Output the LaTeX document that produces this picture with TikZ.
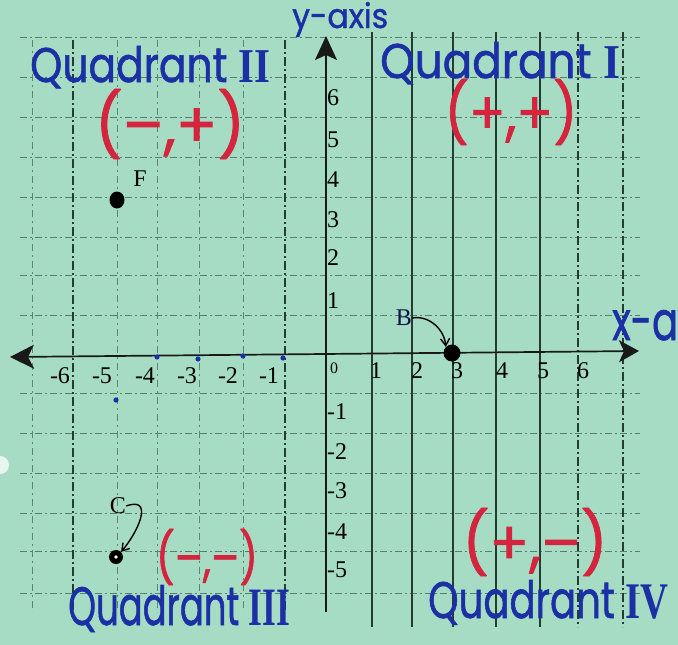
\documentclass[tikz,border=0pt]{standalone}
\usepackage{fontspec}
\setmainfont{Liberation Serif}
\newfontfamily\handfont{Poppins}[FakeBold=1.3]
\usetikzlibrary{arrows.meta,shapes.geometric}
\definecolor{paper}{RGB}{166,220,196}
\definecolor{gridc}{RGB}{35,62,48}
\definecolor{penblue}{RGB}{28,48,165}
\definecolor{penred}{RGB}{212,36,62}
\newcommand{\hw}[3]{\resizebox{#1}{#2}{#3}}
\newcommand{\hwt}[3]{\resizebox*{#1}{#2}{#3}}
\newcommand{\rn}[1]{{\rmfamily\bfseries #1}}
\tikzset{
  vline/.style={gridc, line width=1.3pt},
  vdash/.style={gridc, line width=1.2pt, dash pattern=on 9pt off 3pt on 2pt off 3pt},
  vfaint/.style={gridc!55!paper, line width=1pt, dash pattern=on 7pt off 4pt on 2pt off 4pt},
  hgrid/.style={gridc!60!paper, line width=1pt, dash pattern=on 7pt off 3pt on 2pt off 3pt},
  axisline/.style={black!90, line width=1.7pt},
  num/.style={font=\fontsize{24}{24}\selectfont, inner sep=0pt},
  quad/.style={penblue, font=\handfont, inner sep=0pt, anchor=base west},
  sign/.style={penred, font=\handfont, inner sep=0pt},
  dotpt/.style={ellipse, fill=black, minimum width=15pt, minimum height=17pt, inner sep=0pt},
  pen/.style={black, line width=1.4pt, -{Straight Barb[length=7pt,width=9pt]}},
  bluemark/.style={penblue, fill=penblue}
}
\begin{document}
\begin{tikzpicture}[x=1pt,y=-1pt]
\useasboundingbox (0,0) rectangle (678,645);
\fill[paper] (0,0) rectangle (678,645);
\fill[white!75!paper] (0,465) circle (9);
% horizontal grid
\foreach \y in {37,77,117,157,197,237,275,315,393,433,473,513,551,593}
  \draw[hgrid] (20,\y) -- (640,\y);
% vertical grid, left half
\foreach \x in {32,117,157,199,243}
  \draw[vfaint] (\x,40) -- (\x,612);
\draw[vdash] (73,40) -- (73,612);
\draw[vdash] (285,40) -- (285,612);
% vertical grid, right half
\foreach \x in {372,412,453,496,540}
  \draw[vline] (\x,32) -- (\x,627);
\foreach \x in {578,623}
  \draw[vdash] (\x,32) -- (\x,627);
% axes
\coordinate (xl) at (10,357);
\coordinate (xr) at (639,351);
\coordinate (yb) at (326,612);
\coordinate (yt) at (326,36);
\draw[axisline,{Stealth[length=24pt,width=24pt,inset=6pt]}-{Stealth[length=20pt,width=22pt,inset=5pt]}] (xl) -- (xr);
\draw[axisline,-{Stealth[length=24pt,width=22pt,inset=5pt]}] (yb) -- (yt);
% blue pen marks
\foreach \p in {(157,357),(198,359),(243,356),(283,358),(116,400)}
  \fill[bluemark] \p circle (2.6);
% x numbers
\node[num] (xm6) at (60,376) {-6};
\node[num] (xm5) at (102,376) {-5};
\node[num] (xm4) at (145,376) {-4};
\node[num] (xm3) at (187,376) {-3};
\node[num] (xm2) at (228,376) {-2};
\node[num] (xm1) at (269,376) {-1};
\node[num] (x1) at (376,371) {1};
\node[num] (x2) at (417,371) {2};
\node[num] (x3) at (457,371) {3};
\node[num] (x4) at (502,371) {4};
\node[num] (x5) at (543,371) {5};
\node[num] (x6) at (583,371) {6};
\node[num, font=\fontsize{16}{16}\selectfont] (o) at (334,368) {0};
% y numbers
\node[num] (y6) at (333,98) {6};
\node[num] (y5) at (333,140) {5};
\node[num] (y4) at (333,180) {4};
\node[num] (y3) at (333,220) {3};
\node[num] (y2) at (333,258) {2};
\node[num] (y1) at (333,301) {1};
\node[num, anchor=west] (ym1) at (327,412) {-1};
\node[num, anchor=west] (ym2) at (327,452) {-2};
\node[num, anchor=west] (ym3) at (327,491) {-3};
\node[num, anchor=west] (ym4) at (327,532) {-4};
\node[num, anchor=west] (ym5) at (327,570) {-5};
% points
\node[dotpt] (F) at (117,200) {};
\node[num] (Flab) at (140,179) {F};
\node[dotpt, minimum width=17pt, minimum height=17pt] (B) at (452,353) {};
\node[num, text=penblue!45!black] (Blab) at (404,318) {B};
\draw[pen] (Blab.east) to[out=10,in=95] (B.north west);
\node[dotpt, minimum width=14pt, minimum height=14pt] (C) at (116,557) {};
\fill[white] (C.center) circle (1.8);
\node[num] (Clab) at (118,506) {C};
\draw[pen] (Clab.east) to[out=20,in=50,looseness=1.6] (C.north east);
% handwritten labels
\node[quad] (q2) at (30,82) {\hw{240pt}{36pt}{Quadrant \rn{II}}};
\node[quad] (q1) at (380,78) {\hw{240pt}{36pt}{Quadrant \rn{I}}};
\node[quad] (q3) at (68,625) {\hw{222pt}{40pt}{Quadrant \rn{III}}};
\node[quad] (q4) at (428,618) {\hw{240pt}{38pt}{Quadrant \rn{IV}}};
\node[quad] (ylab) at (292,28) {\hw{96pt}{26pt}{y-axis}};
\node[quad] (xlab) at (612,340) {\hw{66pt}{30pt}{x-a}};
% sign pairs
\node[sign] (s2) at (170,124) {\hwt{150pt}{70pt}{(–,+)}};
\node[sign] (s1) at (511,112) {\hwt{133pt}{66pt}{(+,+)}};
\node[sign] (s3) at (207,557) {\hwt{102pt}{56pt}{(–,–)}};
\node[sign] (s4) at (535,542) {\hwt{145pt}{68pt}{(+,–)}};
\end{tikzpicture}
\end{document}
